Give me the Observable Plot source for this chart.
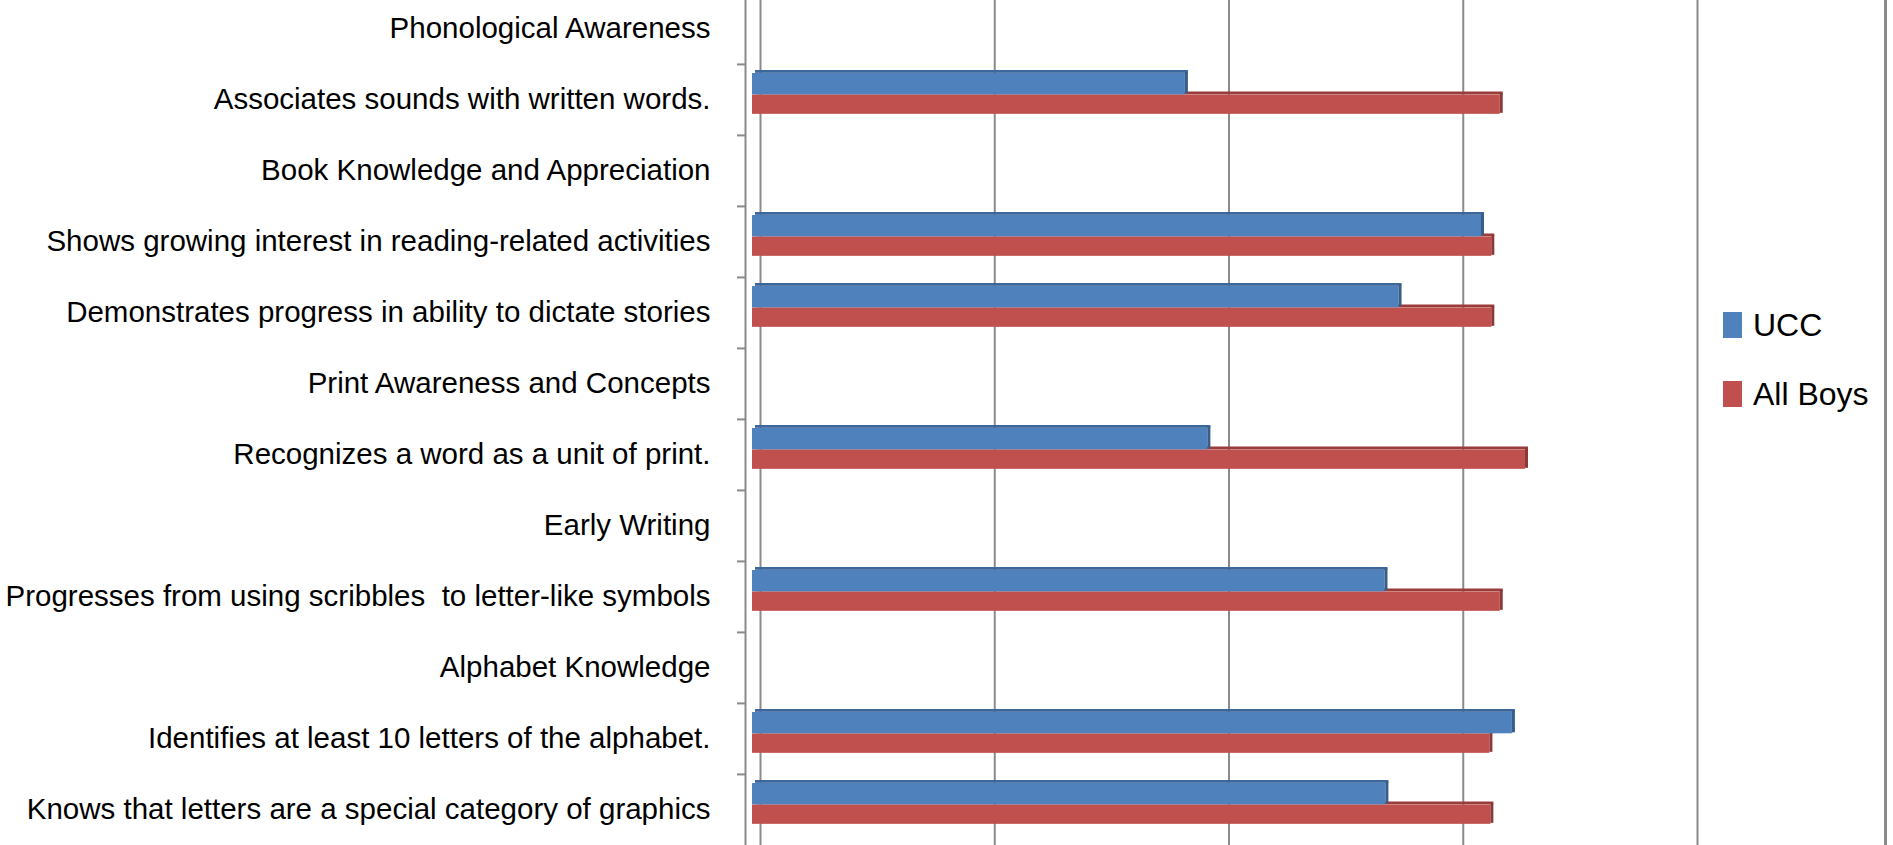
<!DOCTYPE html>
<html>
<head>
<meta charset="utf-8">
<script src="https://cdn.jsdelivr.net/npm/d3@7"></script>
<script src="https://cdn.jsdelivr.net/npm/@observablehq/plot@0.6"></script>
<style>
  html, body { margin: 0; padding: 0; background: #fff; }
  #wrap { position: relative; width: 1893px; height: 845px; overflow: hidden; }
  #border { position: absolute; left: 1884px; top: 0; width: 3px; height: 845px; background: #8a8a8a; }
  #legend { position: absolute; left: 1723px; top: 305px; font-family: 'Liberation Sans', Arial, sans-serif; font-size: 32px; color: #000; }
  #legend .row { display: flex; align-items: center; height: 40px; margin-bottom: 29px; }
  #legend .sw { width: 19px; height: 26px; margin-right: 11px; }
  svg text { font-family: 'Liberation Sans', Arial, sans-serif; }
</style>
</head>
<body>
<div id="wrap"><div id="border"></div><div id="legend"></div></div>
<script>
const categories = [
  "Phonological Awareness",
  "Associates sounds with written words.",
  "Book Knowledge and Appreciation",
  "Shows growing interest in reading-related activities",
  "Demonstrates progress in ability to dictate stories",
  "Print Awareness and Concepts",
  "Recognizes a word as a unit of print.",
  "Early Writing",
  "Progresses from using scribbles  to letter-like symbols",
  "Alphabet Knowledge",
  "Identifies at least 10 letters of the alphabet.",
  "Knows that letters are a special category of graphics"
];
const itemCategories = [
  "Associates sounds with written words.",
  "Shows growing interest in reading-related activities",
  "Demonstrates progress in ability to dictate stories",
  "Recognizes a word as a unit of print.",
  "Progresses from using scribbles  to letter-like symbols",
  "Identifies at least 10 letters of the alphabet.",
  "Knows that letters are a special category of graphics"
];
const uccValues = [46.2, 77.8, 69.0, 48.6, 67.5, 81.1, 67.6];
const allBoysValues = [79.8, 78.9, 78.9, 82.5, 79.8, 78.7, 78.8];
const gridTicks = [0, 25, 50, 75, 100];
const seriesNames = ["UCC", "All Boys"];
const seriesColors = ["#4F81BD", "#C0504D"];
const seriesTopColors = ["#3C679B", "#9A3D3A"];
const seriesSideColors = ["#385D8A", "#8C3836"];

const ucc = itemCategories.map((c, i) => ({category: c, value: uccValues[i]}));
const allBoys = itemCategories.map((c, i) => ({category: c, value: allBoysValues[i]}));

const H = 845;
const yRange = [-8, 846];
const bw = (yRange[1] - yRange[0]) / categories.length;

// vertical positions inside each band (from band top)
const uTop = 9, uBot = 30.5, rBot = 50, depth = 3;

const plot = Plot.plot({
  width: 1893,
  height: H,
  marginLeft: 745,
  marginRight: 0,
  marginTop: 0,
  marginBottom: 0,
  x: {domain: [0, 100], range: [752, 1689], axis: null},
  y: {domain: categories, range: yRange, padding: 0, axis: null},
  marks: [
    Plot.ruleX(gridTicks, {dx: 8, stroke: "#8a8a8a", strokeWidth: 2}),
    Plot.frame({anchor: "left", stroke: "#8a8a8a", strokeWidth: 2}),
    Plot.axisY({tickSize: 8, tickFormat: () => "", label: null, dy: -bw / 2, stroke: "#8a8a8a", strokeWidth: 2}),
    Plot.axisY({tickSize: 0, tickPadding: 35, label: null, fontSize: 29.5, fill: "#000"}),
    // red bar: top face, face, side face
    Plot.barX(allBoys, {y: "category", x: "value", dx: depth, insetTop: uBot - depth, insetBottom: bw - uBot, fill: seriesTopColors[1]}),
    Plot.barX(allBoys, {y: "category", x: "value", insetTop: uBot, insetBottom: bw - rBot, fill: seriesColors[1]}),
    Plot.barX(allBoys, {y: "category", x1: "value", x2: "value", insetRight: -depth, insetTop: uBot - depth / 2, insetBottom: bw - rBot + 1, fill: seriesSideColors[1]}),
    // blue bar
    Plot.barX(ucc, {y: "category", x: "value", dx: depth, insetTop: uTop - depth, insetBottom: bw - uTop, fill: seriesTopColors[0]}),
    Plot.barX(ucc, {y: "category", x: "value", insetTop: uTop, insetBottom: bw - uBot, fill: seriesColors[0]}),
    Plot.barX(ucc, {y: "category", x1: "value", x2: "value", insetRight: -depth, insetTop: uTop - depth / 2, insetBottom: bw - uBot + 1, fill: seriesSideColors[0]})
  ]
});
document.getElementById("wrap").prepend(plot);

const legend = document.getElementById("legend");
seriesNames.forEach((n, i) => {
  const row = document.createElement("div");
  row.className = "row";
  const sw = document.createElement("div");
  sw.className = "sw";
  sw.style.background = seriesColors[i];
  const t = document.createElement("span");
  t.textContent = n;
  row.append(sw, t);
  legend.append(row);
});
</script>
</body>
</html>
